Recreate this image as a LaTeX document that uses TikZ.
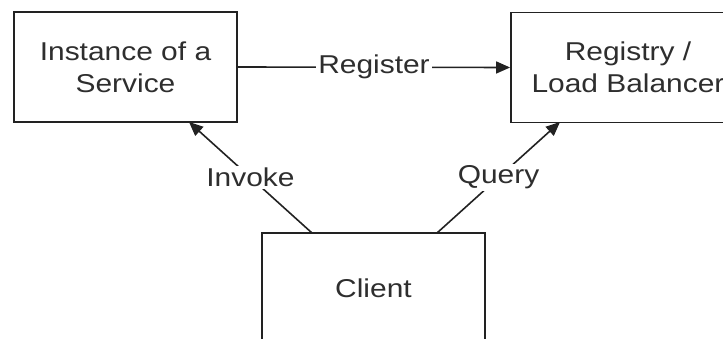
\documentclass[tikz,border=0pt]{standalone}
\usepackage{fontspec}
\setmainfont{Liberation Sans}[FakeStretch=1.16]
\usetikzlibrary{arrows.meta}
\definecolor{txt}{HTML}{2E2E2E}
\definecolor{ln}{HTML}{222222}
\begin{document}
\begin{tikzpicture}[x=1pt,y=-1pt,
  box/.style={draw=ln,line width=1.8pt,minimum width=223pt,minimum height=110pt,
    align=center,text=txt,font=\fontsize{25.8}{32}\selectfont,inner sep=0pt},
  lbl/.style={fill=white,text=txt,font=\fontsize{25.8}{32}\selectfont,inner sep=2pt},
  conn/.style={draw=ln,line width=1.6pt},
  arr/.style={conn,-{Triangle[length=14pt,width=12pt]}}]
\useasboundingbox (0,0) rectangle (723,339);
\clip (0,0) rectangle (723,339);
\node[box] (svc) at (125.5,67) {Instance of a\\Service};
\node[box,minimum width=234pt] (reg) at (628,67.5) {Registry /\\Load Balancer};
\node[box] (cli) at (373.5,288) {Client};
\coordinate (c1) at (312,233);
\coordinate (b1) at (189,122);
\coordinate (c2) at (437,233);
\coordinate (b2) at (560,122);
\draw[arr] (svc.east) -- node[lbl]{Register} (reg.west);
\draw[arr] (c1) -- node[lbl]{Invoke} (b1);
\draw[arr] (c2) -- node[lbl]{Query} (b2);
\end{tikzpicture}
\end{document}
